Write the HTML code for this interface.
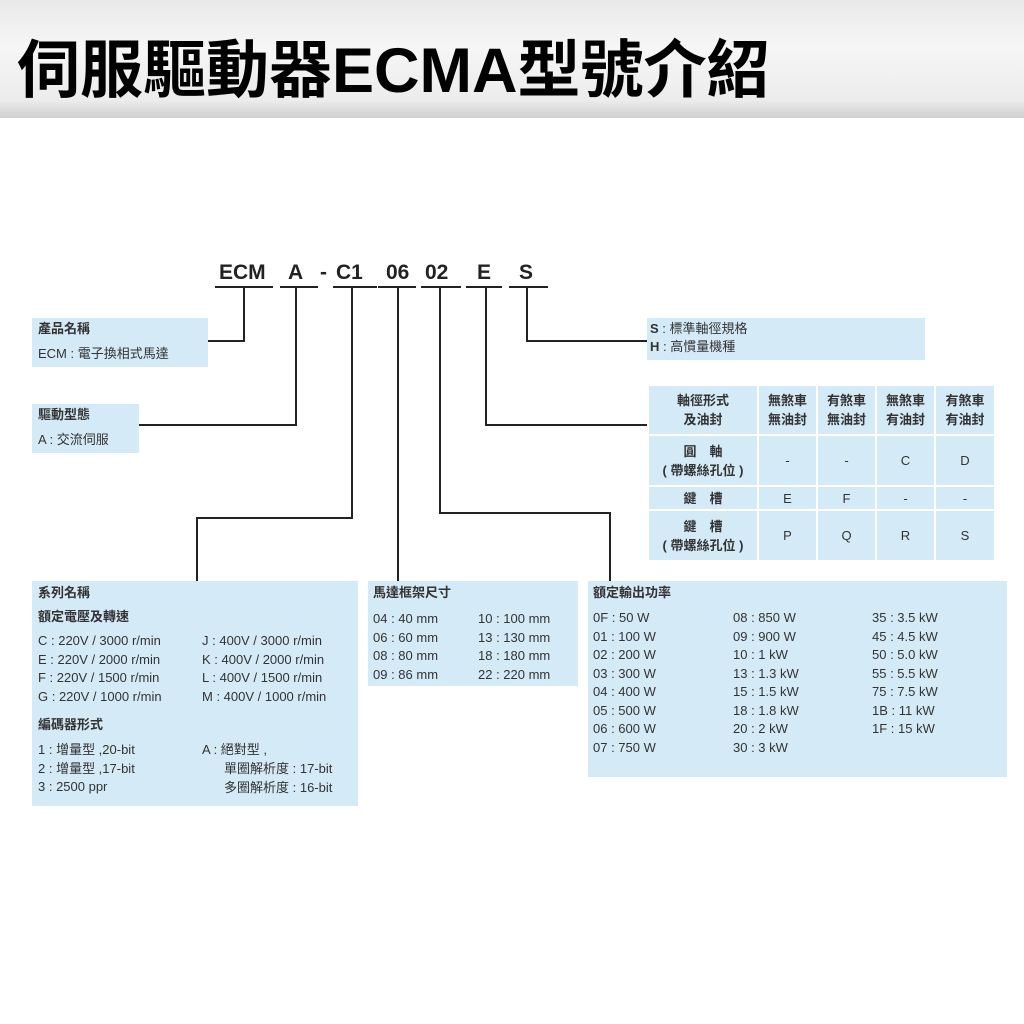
<!DOCTYPE html>
<html><head><meta charset="utf-8"><style>
body{margin:0;width:1024px;height:1024px;position:relative;background:#fff;overflow:hidden;font-family:"Liberation Sans","Noto Sans CJK TC",sans-serif;color:#333}
.a{position:absolute}
.title{left:0;top:0;width:1024px;height:118px;background:linear-gradient(180deg,#e9e9e9,#f6f6f6 40%,#ececec 85%,#cfcfcf);}
.title span{position:absolute;left:17px;top:20px;font-size:63px;font-weight:bold;color:#000;font-family:"Liberation Sans","Noto Sans CJK TC",sans-serif;white-space:nowrap}
.box{position:absolute;background:#d5eaf7}
.t{position:absolute;font-size:13px;white-space:nowrap;line-height:18.5px}
.b{font-weight:bold}
.code{position:absolute;top:261px;font-size:21px;font-weight:bold;color:#222}
.ul{position:absolute;top:286px;height:2px;background:#222}
.l{position:absolute;background:#222}
table{position:absolute;left:647px;top:384px;border-collapse:collapse;font-size:13px;color:#333}
td{background:#d5eaf7;border:2px solid #fff;text-align:center;padding:0;line-height:19px}
</style></head><body>
<div class="a title"><span>伺服驅動器ECMA型號介紹</span></div>

<div class="code" style="left:219px">ECM</div>
<div class="code" style="left:288px">A</div>
<div class="code" style="left:320px">-</div>
<div class="code" style="left:336px">C1</div>
<div class="code" style="left:386px">06</div>
<div class="code" style="left:425px">02</div>
<div class="code" style="left:477px">E</div>
<div class="code" style="left:519px">S</div>
<div class="ul" style="left:215px;width:58px"></div>
<div class="ul" style="left:280px;width:38px"></div>
<div class="ul" style="left:333px;width:44px"></div>
<div class="ul" style="left:378px;width:38px"></div>
<div class="ul" style="left:421px;width:40px"></div>
<div class="ul" style="left:466px;width:36px"></div>
<div class="ul" style="left:509px;width:39px"></div>

<div class="l" style="left:243px;top:287px;width:2px;height:55px"></div>
<div class="l" style="left:208px;top:340px;width:37px;height:2px"></div>
<div class="l" style="left:295px;top:287px;width:2px;height:139px"></div>
<div class="l" style="left:139px;top:424px;width:158px;height:2px"></div>
<div class="l" style="left:351px;top:287px;width:2px;height:232px"></div>
<div class="l" style="left:196px;top:517px;width:157px;height:2px"></div>
<div class="l" style="left:196px;top:517px;width:2px;height:64px"></div>
<div class="l" style="left:397px;top:287px;width:2px;height:294px"></div>
<div class="l" style="left:439px;top:287px;width:2px;height:227px"></div>
<div class="l" style="left:439px;top:512px;width:172px;height:2px"></div>
<div class="l" style="left:609px;top:512px;width:2px;height:69px"></div>
<div class="l" style="left:485px;top:287px;width:2px;height:139px"></div>
<div class="l" style="left:485px;top:424px;width:162px;height:2px"></div>
<div class="l" style="left:526px;top:287px;width:2px;height:55px"></div>
<div class="l" style="left:526px;top:340px;width:121px;height:2px"></div>

<div class="box" style="left:32px;top:318px;width:176px;height:49px"></div>
<div class="t b" style="left:38px;top:320px">產品名稱</div>
<div class="t" style="left:38px;top:345px">ECM : 電子換相式馬達</div>

<div class="box" style="left:32px;top:404px;width:107px;height:49px"></div>
<div class="t b" style="left:38px;top:406px">驅動型態</div>
<div class="t" style="left:38px;top:431px">A : 交流伺服</div>

<div class="box" style="left:647px;top:318px;width:278px;height:42px"></div>
<div class="t" style="left:650px;top:320px"><b>S</b> : 標準軸徑規格</div>
<div class="t" style="left:650px;top:338px"><b>H</b> : 高慣量機種</div>

<table>
<tr style="height:50px"><td style="width:108px" class="b">軸徑形式<br>及油封</td><td style="width:57px" class="b">無煞車<br>無油封</td><td style="width:57px" class="b">有煞車<br>無油封</td><td style="width:57px" class="b">無煞車<br>有油封</td><td style="width:58px" class="b">有煞車<br>有油封</td></tr>
<tr style="height:51px"><td class="b">圓　軸<br>( 帶螺絲孔位 )</td><td>-</td><td>-</td><td>C</td><td>D</td></tr>
<tr style="height:24px"><td class="b">鍵　槽</td><td>E</td><td>F</td><td>-</td><td>-</td></tr>
<tr style="height:51px"><td class="b">鍵　槽<br>( 帶螺絲孔位 )</td><td>P</td><td>Q</td><td>R</td><td>S</td></tr>
</table>

<div class="box" style="left:32px;top:581px;width:326px;height:225px"></div>
<div class="t b" style="left:38px;top:584px">系列名稱</div>
<div class="t b" style="left:38px;top:608px">額定電壓及轉速</div>
<div class="t" style="left:38px;top:632px">C : 220V / 3000 r/min<br>E : 220V / 2000 r/min<br>F : 220V / 1500 r/min<br>G : 220V / 1000 r/min</div>
<div class="t" style="left:202px;top:632px">J : 400V / 3000 r/min<br>K : 400V / 2000 r/min<br>L : 400V / 1500 r/min<br>M : 400V / 1000 r/min</div>
<div class="t b" style="left:38px;top:716px">編碼器形式</div>
<div class="t" style="left:38px;top:741px">1 : 增量型 ,20-bit<br>2 : 增量型 ,17-bit<br>3 : 2500 ppr</div>
<div class="t" style="left:202px;top:741px">A : 絕對型 ,</div>
<div class="t" style="left:224px;top:759px;line-height:19px">單圈解析度 : 17-bit<br>多圈解析度 : 16-bit</div>

<div class="box" style="left:368px;top:581px;width:210px;height:105px"></div>
<div class="t b" style="left:373px;top:584px">馬達框架尺寸</div>
<div class="t" style="left:373px;top:610px">04 : 40 mm<br>06 : 60 mm<br>08 : 80 mm<br>09 : 86 mm</div>
<div class="t" style="left:478px;top:610px">10 : 100 mm<br>13 : 130 mm<br>18 : 180 mm<br>22 : 220 mm</div>

<div class="box" style="left:588px;top:581px;width:419px;height:196px"></div>
<div class="t b" style="left:593px;top:584px">額定輸出功率</div>
<div class="t" style="left:593px;top:609px">0F : 50 W<br>01 : 100 W<br>02 : 200 W<br>03 : 300 W<br>04 : 400 W<br>05 : 500 W<br>06 : 600 W<br>07 : 750 W</div>
<div class="t" style="left:733px;top:609px">08 : 850 W<br>09 : 900 W<br>10 : 1 kW<br>13 : 1.3 kW<br>15 : 1.5 kW<br>18 : 1.8 kW<br>20 : 2 kW<br>30 : 3 kW</div>
<div class="t" style="left:872px;top:609px">35 : 3.5 kW<br>45 : 4.5 kW<br>50 : 5.0 kW<br>55 : 5.5 kW<br>75 : 7.5 kW<br>1B : 11 kW<br>1F : 15 kW</div>
</body></html>
